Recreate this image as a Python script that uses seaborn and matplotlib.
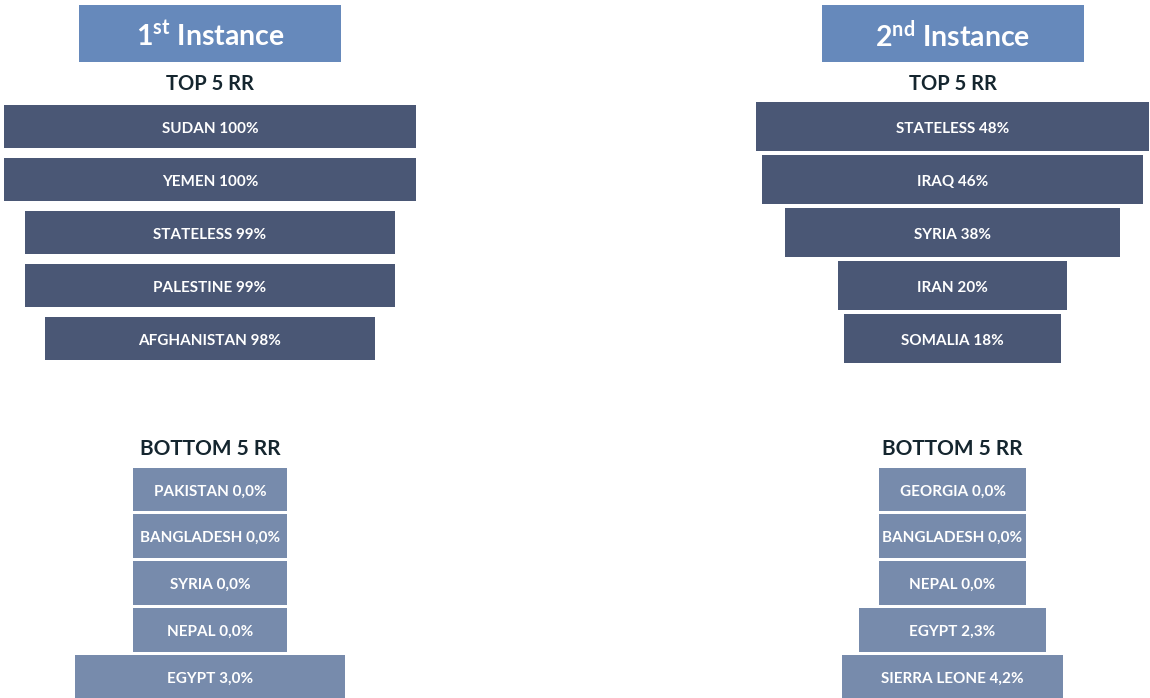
import matplotlib
matplotlib.use("Agg")
import matplotlib.pyplot as plt
import pandas as pd
import seaborn as sns

sns.set_theme(style="white")
plt.rcParams["font.family"] = ["Lato", "DejaVu Sans"]
plt.rcParams["mathtext.fontset"] = "custom"
plt.rcParams["mathtext.rm"] = "Lato:bold"
plt.rcParams["mathtext.bf"] = "Lato:bold"
plt.rcParams["mathtext.it"] = "Lato:bold"

# Recognition rates (%) by nationality
first_top_countries = ["SUDAN", "YEMEN", "STATELESS", "PALESTINE", "AFGHANISTAN"]
first_top_rates = [100, 100, 99, 99, 98]
first_bottom_countries = ["PAKISTAN", "BANGLADESH", "SYRIA", "NEPAL", "EGYPT"]
first_bottom_rates = [0.0, 0.0, 0.0, 0.0, 3.0]

second_top_countries = ["STATELESS", "IRAQ", "SYRIA", "IRAN", "SOMALIA"]
second_top_rates = [48, 46, 38, 20, 18]
second_bottom_countries = ["GEORGIA", "BANGLADESH", "NEPAL", "EGYPT", "SIERRA LEONE"]
second_bottom_rates = [0.0, 0.0, 0.0, 2.3, 4.2]

instance_titles = ["1$^{\\mathbf{st}}$ Instance", "2$^{\\mathbf{nd}}$ Instance"]
section_titles = ["TOP 5 RR", "BOTTOM 5 RR"]

W, H = 1150, 698
TOP_COLOR = "#4a5775"
BOTTOM_COLOR = "#778bac"
TITLE_BOX = "#6689bb"
HEAD_COLOR = "#15262f"

fig = plt.figure(figsize=(W / 100, H / 100), dpi=100)
fig.patch.set_facecolor("white")


def px_axes(x0, y0, x1, y1):
    return fig.add_axes([x0 / W, 1 - y1 / H, (x1 - x0) / W, (y1 - y0) / H])


def funnel(box, center, scale, offset, countries, rates, color, bar_h, decimals):
    """Centered funnel: each bar spans (rate + offset) units around zero."""
    x0, y0, x1, y1 = box
    ax = px_axes(x0, y0, x1, y1)
    half = [(r + offset) / 2 for r in rates]
    df = pd.DataFrame({"country": countries, "right": half,
                       "left": [-h for h in half]})
    for col in ("right", "left"):
        sns.barplot(data=df, x=col, y="country", orient="h", ax=ax,
                    color=color, saturation=1, width=bar_h,
                    linewidth=0, edgecolor="none")
    ax.set_xlim(-(center - x0) / scale, (x1 - center) / scale)
    ax.set_ylim(len(countries) - 0.5, -0.5)
    ax.axis("off")
    for i, (c, r) in enumerate(zip(countries, rates)):
        if decimals:
            lab = f"{r:.1f}".replace(".", ",") + "%"
        else:
            lab = f"{r:.0f}%"
        ax.text(0, i + 0.04, f"{c} {lab}", ha="center", va="center",
                color="white", fontsize=11, fontweight="bold")
    return ax


# 1st instance
funnel((0, 100, 420, 365), 210, 41.2, -90,
       first_top_countries, first_top_rates, TOP_COLOR, 0.83, False)
funnel((0, 466, 420, 700.5), 210, 38.5, 4.0,
       first_bottom_countries, first_bottom_rates, BOTTOM_COLOR, 0.936, True)

# 2nd instance
funnel((740, 100, 1150, 365), 952.5, 5.87, 19,
       second_top_countries, second_top_rates, TOP_COLOR, 0.925, False)
funnel((740, 466, 1150, 700.5), 952.5, 17.6, 8.35,
       second_bottom_countries, second_bottom_rates, BOTTOM_COLOR, 0.936, True)

# Instance header boxes
for (bx0, bx1), title in zip([(79, 341), (822, 1084)], instance_titles):
    tax = px_axes(bx0, 5, bx1, 62)
    tax.set_facecolor(TITLE_BOX)
    tax.set_xticks([])
    tax.set_yticks([])
    for s in tax.spines.values():
        s.set_visible(False)
    tax.text(0.5, 0.46, title, ha="center", va="center", color="white",
             fontsize=20.5, fontweight="bold", transform=tax.transAxes)

# Section headings
for cx in (210, 952.5):
    fig.text(cx / W, 1 - 84 / H, section_titles[0], ha="center", va="center",
             fontsize=14.5, fontweight="bold", color=HEAD_COLOR)
    fig.text(cx / W, 1 - 449 / H, section_titles[1], ha="center", va="center",
             fontsize=15, fontweight="bold", color=HEAD_COLOR)

fig.savefig("out.png", dpi=100, facecolor="white")
